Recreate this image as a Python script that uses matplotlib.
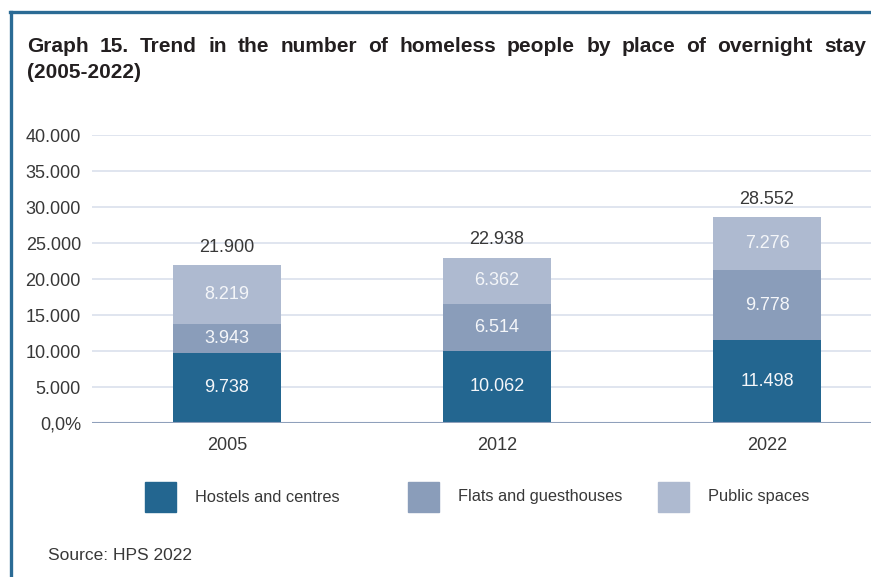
import matplotlib.pyplot as plt
from matplotlib.lines import Line2D
from matplotlib.patches import Rectangle

plt.rcParams["font.family"] = ["Liberation Sans", "DejaVu Sans"]

# Data
years = ["2005", "2012", "2022"]
series = ["Hostels and centres", "Flats and guesthouses", "Public spaces"]
hostels = [9738, 10062, 11498]
flats = [3943, 6514, 9778]
public = [8219, 6362, 7276]
yticks = [0, 5000, 10000, 15000, 20000, 25000, 30000, 35000, 40000]
ytick_labels = ["0,0%", "5.000", "10.000", "15.000", "20.000", "25.000",
                "30.000", "35.000", "40.000"]
colors = ["#236690", "#8a9dba", "#aebad0"]

W, H = 871, 577
fig = plt.figure(figsize=(W / 100, H / 100), dpi=100)


def fx(px):
    return px / W


def fy(py):
    return 1 - py / H


ax = fig.add_axes([fx(92), fy(423), fx(871 - 92), fy(135) - fy(423)])

x = range(len(years))
bottom = [0, 0, 0]
for vals, col in zip([hostels, flats, public], colors):
    ax.bar(x, vals, bottom=bottom, width=0.4, color=col, zorder=3)
    for xi, v, b in zip(x, vals, bottom):
        ax.text(xi, b + v / 2, f"{v:,}".replace(",", "."), ha="center",
                va="center", color="#f4f6f9", fontsize=13, zorder=4)
    bottom = [b + v for b, v in zip(bottom, vals)]

# totals above the bars
for xi, t in zip(x, bottom):
    ax.text(xi, t + 2500, f"{t:,}".replace(",", "."), ha="center",
            va="center", color="#383838", fontsize=13)

ax.set_xlim(-0.5, -0.5 + (871 - 92) / 270)
ax.set_ylim(0, 40000)
ax.set_yticks(yticks)
ax.set_yticklabels(ytick_labels, fontsize=13, color="#383838")
ax.set_xticks(list(x))
ax.set_xticklabels(years, fontsize=13, color="#383838")
ax.tick_params(length=0)
ax.tick_params(axis="y", pad=8)
ax.tick_params(axis="x", pad=10)
for s in ax.spines.values():
    s.set_visible(False)
ax.grid(axis="y", color="#dde3ee", linewidth=1.3, zorder=0)
ax.axhline(0, color="#8fa0bb", linewidth=1.5, zorder=5)

# Frame
fig.add_artist(Line2D([fx(10), 1], [fy(12), fy(12)], color="#2b6b95", lw=2.4))
fig.add_artist(Line2D([fx(11), fx(11)], [fy(12), 0], color="#2b6b95", lw=2.4))

# Justified title
words = "Graph 15. Trend in the number of homeless people by place of overnight stay".split()
renderer = fig.canvas.get_renderer()
objs = [fig.text(0, fy(46), w, fontsize=15, fontweight="bold", color="#231f20",
                 va="center") for w in words]
widths = [o.get_window_extent(renderer).width for o in objs]
gap = (866 - 27 - sum(widths)) / (len(words) - 1)
pos = 27
for o, w in zip(objs, widths):
    o.set_x(fx(pos))
    pos += w + gap
fig.text(fx(27), fy(72), "(2005-2022)", fontsize=15, fontweight="bold",
         color="#231f20", va="center")

# Legend
leg_x = [145, 408, 658]
for lx, name, col in zip(leg_x, series, colors):
    fig.add_artist(Rectangle((fx(lx), fy(512)), fx(31), fy(482) - fy(512),
                             color=col, transform=fig.transFigure))
    fig.text(fx(lx + 50), fy(497), name, fontsize=11.8, color="#383838",
             va="center")

fig.text(fx(48), fy(556), "Source: HPS 2022", fontsize=12.5, color="#383838",
         va="center")

fig.savefig("out.png", dpi=100)
